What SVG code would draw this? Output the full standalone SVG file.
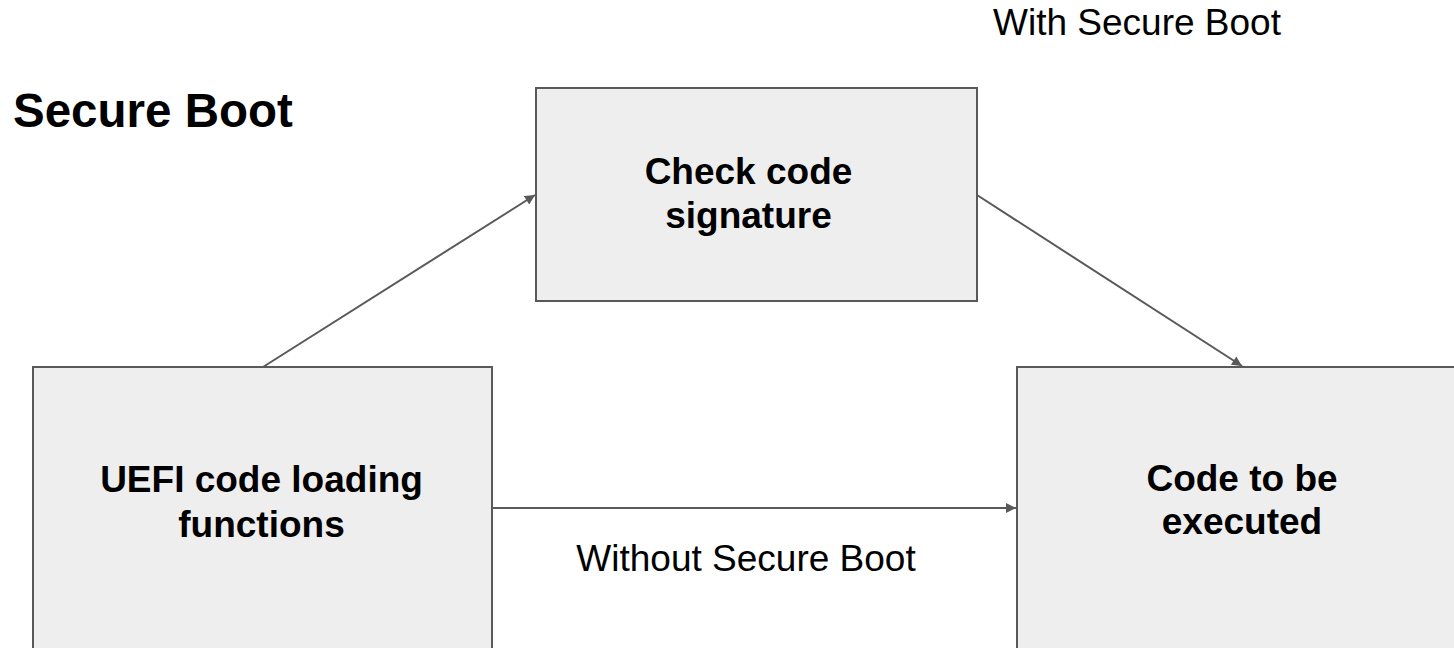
<svg xmlns="http://www.w3.org/2000/svg" width="1454" height="648" viewBox="0 0 1454 648">
  <style>
    .box { fill: #eeeeee; stroke: #595959; stroke-width: 2; }
    .lbl { font-family: "Liberation Sans", Arial, sans-serif; font-size: 37px; font-weight: bold; fill: #000; text-anchor: middle; }
    .note { font-family: "Liberation Sans", Arial, sans-serif; font-size: 37px; fill: #000; text-anchor: middle; }
    .title { font-family: "Liberation Sans", Arial, sans-serif; font-size: 47.5px; font-weight: bold; fill: #000; }
    .edge { stroke: #595959; stroke-width: 2; fill: none; marker-end: url(#arrow); }
  </style>
  <defs>
    <marker id="arrow" viewBox="0 0 10 10" refX="10" refY="5" markerWidth="11" markerHeight="10" markerUnits="userSpaceOnUse" orient="auto">
      <path d="M0,0 L10,5 L0,10 z" fill="#595959"/>
    </marker>
  </defs>
  <rect width="1454" height="648" fill="#ffffff"/>

  <text class="title" x="13" y="127">Secure Boot</text>

  <g id="check-signature">
    <rect class="box" x="536" y="88" width="441" height="213"/>
    <text class="lbl" x="748.5" y="184">Check code</text>
    <text class="lbl" x="748.5" y="228">signature</text>
  </g>

  <g id="uefi-loading">
    <rect class="box" x="33" y="367" width="459" height="300"/>
    <text class="lbl" x="261.5" y="492">UEFI code loading</text>
    <text class="lbl" x="261.5" y="537">functions</text>
  </g>

  <g id="code-executed">
    <rect class="box" x="1017" y="367" width="460" height="300"/>
    <text class="lbl" x="1242" y="491">Code to be</text>
    <text class="lbl" x="1242" y="534">executed</text>
  </g>

  <g id="connectors">
    <line class="edge" x1="263" y1="367" x2="535" y2="195"/>
    <line class="edge" x1="977" y1="195" x2="1242" y2="366"/>
    <line class="edge" x1="492" y1="508" x2="1016" y2="508"/>
    <text class="note" x="746" y="571">Without Secure Boot</text>
    <text class="note" x="1137" y="35">With Secure Boot</text>
  </g>
</svg>
